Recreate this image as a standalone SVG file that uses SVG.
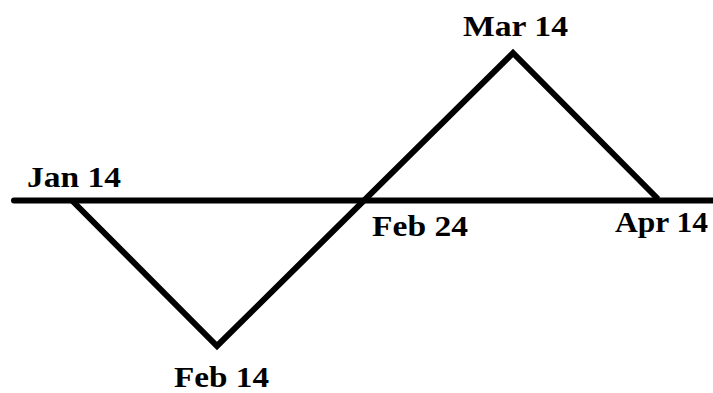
<svg xmlns="http://www.w3.org/2000/svg" width="713" height="393" viewBox="0 0 713 393">
<style>
.lbl{font-family:"Liberation Serif","Times New Roman",serif;font-weight:bold;font-size:30px;fill:#000}
.ln{stroke:#000;stroke-width:6;fill:none}
</style>
<rect width="713" height="393" fill="#fff"/>
<g id="connectors">
<line class="ln" x1="14" y1="200.5" x2="713" y2="200.5" stroke-linecap="round"/>
<polyline class="ln" points="72,200.5 217,346 513,53 658,199" stroke-linejoin="miter"/>
</g>
<g id="jan14"><text class="lbl" x="27" y="187" textLength="94" lengthAdjust="spacingAndGlyphs">Jan 14</text></g>
<g id="feb14"><text class="lbl" x="174" y="387" textLength="95" lengthAdjust="spacingAndGlyphs">Feb 14</text></g>
<g id="feb24"><text class="lbl" x="372" y="236" textLength="96" lengthAdjust="spacingAndGlyphs">Feb 24</text></g>
<g id="mar14"><text class="lbl" x="463" y="36" textLength="105" lengthAdjust="spacingAndGlyphs">Mar 14</text></g>
<g id="apr14"><text class="lbl" x="615" y="232" textLength="93" lengthAdjust="spacingAndGlyphs">Apr 14</text></g>
</svg>
